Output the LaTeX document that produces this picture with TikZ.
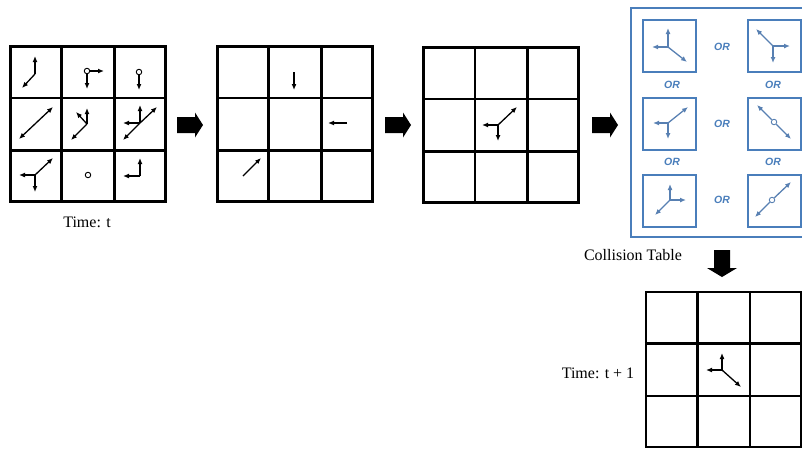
\documentclass[tikz,border=0pt]{standalone}
\usepackage{fontspec}
\setmainfont{Liberation Serif}
\newfontfamily\orfont{Liberation Sans}
\usetikzlibrary{arrows.meta,calc}
\definecolor{tblblue}{RGB}{74,126,187}
\definecolor{ptlblue}{RGB}{88,128,178}
\begin{document}
\begin{tikzpicture}[x=1pt,y=-1pt,
  gridbox/.style={draw, line width=2.5pt, minimum size=155pt, inner sep=0pt},
  gline/.style={line width=2.5pt},
  tablebox/.style={draw=tblblue, line width=2pt, minimum width=53pt, minimum height=52pt, inner sep=0pt},
  ptl/.style={line width=1.3pt, -{Latex[length=6pt,width=5pt]}},
  bptl/.style={line width=1.3pt, draw=ptlblue, -{Latex[length=6pt,width=5pt]}},
  rest/.style={circle, draw, line width=0.9pt, fill=white, inner sep=0pt, minimum size=5.5pt},
  brest/.style={rest, draw=ptlblue},
  rblock/.pic={\fill (-13,-8) -- (5,-8) -- (5,-12.5) -- (13,0) -- (5,12.5) -- (5,8) -- (-13,8) -- cycle;},
  dblock/.pic={\fill (-8,-13.5) -- (-8,4.5) -- (-15,4.5) -- (0,13.5) -- (15,4.5) -- (8,4.5) -- (8,-13.5) -- cycle;},
  orlbl/.style={text=tblblue, font=\orfont\bfseries\itshape\fontsize{10.5}{12}\selectfont, inner sep=0pt},
  lbl/.style={font=\fontsize{16}{19}\selectfont, inner sep=0pt}]
\useasboundingbox (0,0) rectangle (802,448);
\clip (0,0) rectangle (802,448);

% grids
\node[gridbox] (g1) at (88,124) {};
\node[gridbox] (g2) at (295,124) {};
\node[gridbox] (g3) at (501,125) {};
\node[gridbox] (g4) at (723.5,369.5) {};
\foreach \g in {g1,g2,g3,g4}{
  \foreach \f in {0.3333,0.6667}{
    \draw[gline] ($(\g.north west)!\f!(\g.north east)$) -- ($(\g.south west)!\f!(\g.south east)$);
    \draw[gline] ($(\g.north west)!\f!(\g.south west)$) -- ($(\g.north east)!\f!(\g.south east)$);
  }
}

% grid 1 particles
\coordinate (a1) at (35,74);
\draw[ptl] (a1) -- (35,56);
\draw[ptl] (a1) -- (22,88);
\node[rest] (r1) at (87,71) {};
\draw[ptl] (r1) -- (104,71);
\draw[ptl] (r1) -- (87,89);
\node[rest] (r2) at (139,72) {};
\draw[ptl] (r2) -- (139,90);
\coordinate (a2) at (36,123);
\draw[ptl] (a2) -- (19,139);
\draw[ptl] (a2) -- (53,107);
\coordinate (a3) at (87,124);
\draw[ptl] (a3) -- (87,108);
\draw[ptl] (a3) -- (76,112);
\draw[ptl] (a3) -- (71,140);
\coordinate (a4) at (140,123);
\draw[ptl] (a4) -- (140,105);
\draw[ptl] (a4) -- (123,123);
\draw[ptl] (a4) -- (123,140);
\draw[ptl] (a4) -- (157,107);
\coordinate (a5) at (35,175);
\draw[ptl] (a5) -- (19,175);
\draw[ptl] (a5) -- (35,192);
\draw[ptl] (a5) -- (53,158);
\node[rest] (r3) at (88,175) {};
\coordinate (a6) at (140,176);
\draw[ptl] (a6) -- (140,158);
\draw[ptl] (a6) -- (123,176);

% grid 2 particles
\coordinate (b1) at (294,72);
\draw[ptl] (b1) -- (294,90);
\coordinate (b2) at (347,123);
\draw[ptl] (b2) -- (328,123);
\coordinate (b3) at (243,176);
\draw[ptl] (b3) -- (261,158);

% grid 3 particles
\coordinate (c1) at (498,125);
\draw[ptl] (c1) -- (482,125);
\draw[ptl] (c1) -- (498,141);
\draw[ptl] (c1) -- (517,107);

% grid 4 particles
\coordinate (d1) at (722,370);
\draw[ptl] (d1) -- (722,353);
\draw[ptl] (d1) -- (706,370);
\draw[ptl] (d1) -- (741,387);

% collision table
\draw[tblblue, line width=2pt] (631,8) rectangle (810,237);
\node[tablebox] (t1) at (669.5,45.5) {};
\node[tablebox] (t2) at (774,45.5) {};
\node[tablebox] (t3) at (669.5,123.5) {};
\node[tablebox] (t4) at (774,123.5) {};
\node[tablebox] (t5) at (669.5,201) {};
\node[tablebox] (t6) at (774,201) {};

\coordinate (e1) at (668,47);
\draw[bptl] (e1) -- (668,28);
\draw[bptl] (e1) -- (652,47);
\draw[bptl] (e1) -- (687,62);
\coordinate (e2) at (773,46);
\draw[bptl] (e2) -- (756,29);
\draw[bptl] (e2) -- (790,46);
\draw[bptl] (e2) -- (773,63);
\coordinate (e3) at (668,123);
\draw[bptl] (e3) -- (688,107);
\draw[bptl] (e3) -- (653,123);
\draw[bptl] (e3) -- (668,139);
\node[brest] (e4) at (774,122) {};
\draw[bptl] (e4) -- (757,105);
\draw[bptl] (e4) -- (791,139);
\coordinate (e5) at (670,200);
\draw[bptl] (e5) -- (670,184);
\draw[bptl] (e5) -- (686,200);
\draw[bptl] (e5) -- (655,215);
\node[brest] (e6) at (772,200) {};
\draw[bptl] (e6) -- (791,182);
\draw[bptl] (e6) -- (755,217);

\node[orlbl] (o1) at (722,47) {OR};
\node[orlbl] (o2) at (672,85) {OR};
\node[orlbl] (o3) at (773,85) {OR};
\node[orlbl] (o4) at (722,124) {OR};
\node[orlbl] (o5) at (672,162) {OR};
\node[orlbl] (o6) at (773,162) {OR};
\node[orlbl] (o7) at (722,200) {OR};

% block arrows
\pic (k1) at (190,125) {rblock};
\pic (k2) at (398,125) {rblock};
\pic (k3) at (605,125) {rblock};
\pic (k4) at (722,263.5) {dblock};

% labels
\node[lbl] (l1) at (87,222) {Time: t};
\node[lbl] (l2) at (633,255) {Collision Table};
\node[lbl] (l3) at (598,373) {Time: t + 1};
\end{tikzpicture}
\end{document}
